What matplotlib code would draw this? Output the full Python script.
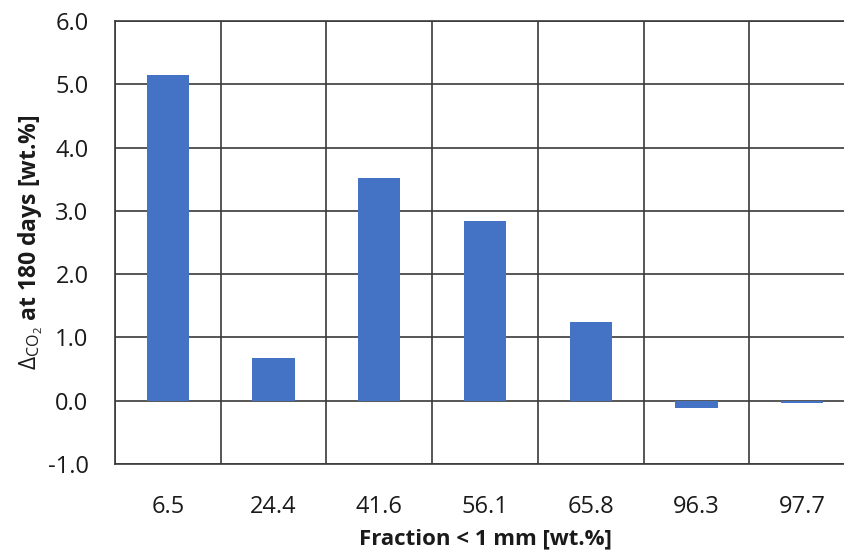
import numpy as np
import matplotlib
matplotlib.use('Agg')
import matplotlib.pyplot as plt

plt.rcParams['font.family'] = ['Open Sans', 'DejaVu Sans']
plt.rcParams['mathtext.fontset'] = 'custom'
plt.rcParams['mathtext.rm'] = 'Open Sans'
plt.rcParams['mathtext.it'] = 'Open Sans'

categories = ['6.5', '24.4', '41.6', '56.1', '65.8', '96.3', '97.7']
values = [5.15, 0.67, 3.52, 2.84, 1.25, -0.12, -0.03]

fig = plt.figure(figsize=(8.44, 5.51), dpi=100)
ax = fig.add_axes([115/844, 1 - 464/551, 740/844, 443/551])

x = np.arange(len(categories))
ax.bar(x, values, width=0.4, color='#4472C4', zorder=3)

ax.set_xlim(-0.5, len(categories) - 0.5)
ax.set_ylim(-1, 6)
ax.set_yticks(np.arange(-1, 6.1, 1))
ax.set_yticklabels(['%.1f' % v for v in np.arange(-1, 6.1, 1)])
ax.set_xticks(x)
ax.set_xticklabels(categories)
ax.set_xticks(np.arange(-0.5, len(categories)), minor=True)

ax.grid(True, which='major', axis='y', color='#3a3a3a', lw=1.2, zorder=1)
ax.grid(True, which='minor', axis='x', color='#3a3a3a', lw=1.2, zorder=1)
ax.tick_params(which='both', length=0, labelsize=17, colors='#1a1a1a')
ax.tick_params(axis='x', pad=22)
ax.tick_params(axis='y', pad=19)
for s in ax.spines.values():
    s.set_color('#3a3a3a')
    s.set_linewidth(1.2)

ax.set_xlabel('Fraction < 1 mm [wt.%]', fontsize=16, fontweight='bold',
              labelpad=7, color='#1a1a1a')
ax.set_ylabel(r'$\Delta_{\mathrm{CO_2}}$ at 180 days [wt.%]', fontsize=16.5,
              fontweight='bold', labelpad=2, color='#1a1a1a')

plt.savefig('out.png', dpi=100)
